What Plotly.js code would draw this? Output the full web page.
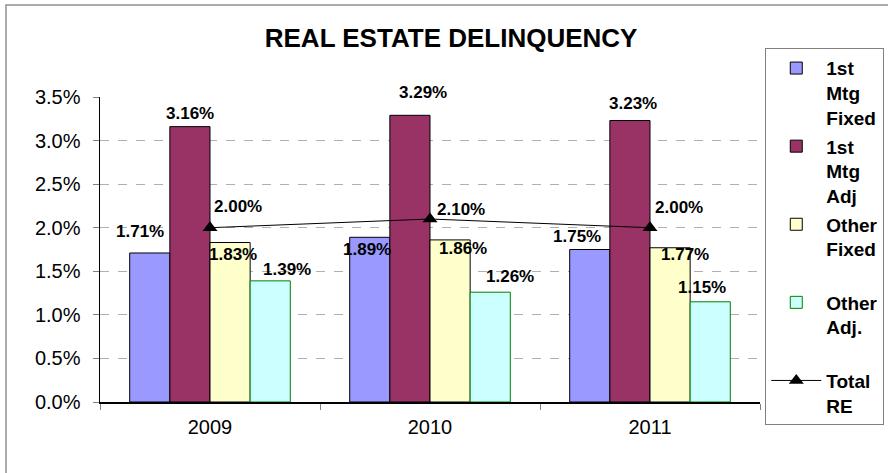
<!DOCTYPE html>
<html>
<head>
<meta charset="utf-8">
<script src="https://cdn.plot.ly/plotly-3.0.1.min.js"></script>
<style>html,body{margin:0;padding:0;background:#fff;}#chart{width:888px;height:473px;}</style>
</head>
<body>
<div id="chart"></div>
<script>
const years = ['2009', '2010', '2011'];
const firstMtgFixed = [1.71, 1.89, 1.75];
const firstMtgAdj = [3.16, 3.29, 3.23];
const otherFixed = [1.83, 1.86, 1.77];
const otherAdj = [1.39, 1.26, 1.15];
const totalRE = [2.00, 2.10, 2.00];
const yTickVals = [0, 0.5, 1.0, 1.5, 2.0, 2.5, 3.0, 3.5];
const yTickText = ['0.0%', '0.5%', '1.0%', '1.5%', '2.0%', '2.5%', '3.0%', '3.5%'];

// label placement (pixel shifts, styling only)
const barLabelShift = [
  [[-10, 21], [-3, -12], [-13, 13]],
  [[0, 13], [13, 23], [3, 17]],
  [[3, -12], [13, -9], [15, -7]],
  [[17, 11], [20, 16], [-8, 14]]
];
const lineLabelShift = [[28, 21], [31, 10], [29, 20]];

const FONT = 'Liberation Sans, Arial, sans-serif';
const lblFont = {family: FONT, size: 17, color: '#000'};
const fmt = v => '<b>' + v.toFixed(2) + '%</b>';
const BARGAP = 0.27;
const NB = 4;
const bw = (1 - BARGAP) / NB;

const series = [
  {name: '<b>1st<br>Mtg<br>Fixed</b>', vals: firstMtgFixed, fill: '#9999ff', line: '#000', grp: 'a'},
  {name: '<b>1st<br>Mtg<br>Adj</b>', vals: firstMtgAdj, fill: '#993366', line: '#000', grp: 'b'},
  {name: '<b>Other<br>Fixed<br> </b>', vals: otherFixed, fill: '#ffffcc', line: '#000', grp: 'c'},
  {name: '<b>Other<br>Adj.<br> </b>', vals: otherAdj, fill: '#ccffff', line: '#008000', grp: 'd'}
];

const traces = series.map(s => ({
  type: 'bar', name: s.name, x: years, y: s.vals,
  marker: {color: s.fill, line: {color: s.line, width: 1}},
  legendgroup: s.grp, hoverinfo: 'skip'
}));
traces.push({
  type: 'scatter', mode: 'lines+markers', name: '<b>Total<br>RE</b>',
  x: years, y: totalRE,
  line: {color: '#000', width: 1},
  marker: {symbol: 'triangle-up', size: 13, color: '#000'},
  cliponaxis: false, legendgroup: 'e', hoverinfo: 'skip'
});

const annotations = [];
series.forEach((s, i) => {
  s.vals.forEach((v, j) => {
    annotations.push({
      xref: 'x', yref: 'y', x: j + (i - (NB - 1) / 2) * bw, y: v,
      text: fmt(v), showarrow: false, font: lblFont,
      xanchor: 'center', yanchor: 'middle',
      xshift: barLabelShift[i][j][0], yshift: barLabelShift[i][j][1]
    });
  });
});
totalRE.forEach((v, j) => {
  annotations.push({
    xref: 'x', yref: 'y', x: j, y: v,
    text: fmt(v), showarrow: false, font: lblFont,
    xanchor: 'center', yanchor: 'middle',
    xshift: lineLabelShift[j][0], yshift: lineLabelShift[j][1]
  });
});

const layout = {
  width: 888, height: 473,
  margin: {l: 100, r: 128, t: 97, b: 71, autoexpand: false},
  paper_bgcolor: '#fff', plot_bgcolor: '#fff',
  font: {family: FONT, color: '#000'},
  title: {text: '<b>REAL ESTATE DELINQUENCY</b>', font: {family: FONT, size: 26, color: '#000'},
          x: 0.508, xanchor: 'center', y: 0.92, yanchor: 'middle'},
  barmode: 'group', bargap: BARGAP, bargroupgap: 0,
  showlegend: true,
  legend: {
    x: 1.008, xanchor: 'left', y: 1.16, yanchor: 'top',
    bordercolor: '#808080', borderwidth: 1, bgcolor: '#fff',
    font: {family: FONT, size: 19, color: '#000'},
    traceorder: 'grouped', tracegroupgap: 1, valign: 'top',
    itemwidth: 50, maxheight: 440
  },
  xaxis: {
    type: 'category', showline: true, linecolor: '#000', linewidth: 1.5,
    ticks: 'outside', tickson: 'boundaries', ticklen: 6, tickcolor: '#808080',
    ticklabelstandoff: 6,
    tickfont: {family: FONT, size: 20, color: '#000'}, showgrid: false, fixedrange: true
  },
  yaxis: {
    range: [0, 3.5], tickvals: yTickVals, ticktext: yTickText,
    showline: true, linecolor: '#000', linewidth: 1.5,
    ticks: 'outside', ticklen: 6, tickcolor: '#808080', ticklabelstandoff: 8,
    tickfont: {family: FONT, size: 20, color: '#000'},
    showgrid: true, gridcolor: '#b0b0b0', griddash: 'dash', gridwidth: 1,
    zeroline: false, fixedrange: true
  },
  annotations: annotations,
  shapes: [
    {type: 'rect', xref: 'paper', yref: 'paper',
     x0: (6 - 100) / 660, x1: (900 - 100) / 660,
     y0: (402 - 480) / 305, y1: (402 - 5) / 305,
     line: {color: '#909090', width: 1.5}, fillcolor: 'rgba(0,0,0,0)', layer: 'below'}
  ]
};

Plotly.newPlot('chart', traces, layout, {displayModeBar: false, staticPlot: true});
</script>
</body>
</html>
